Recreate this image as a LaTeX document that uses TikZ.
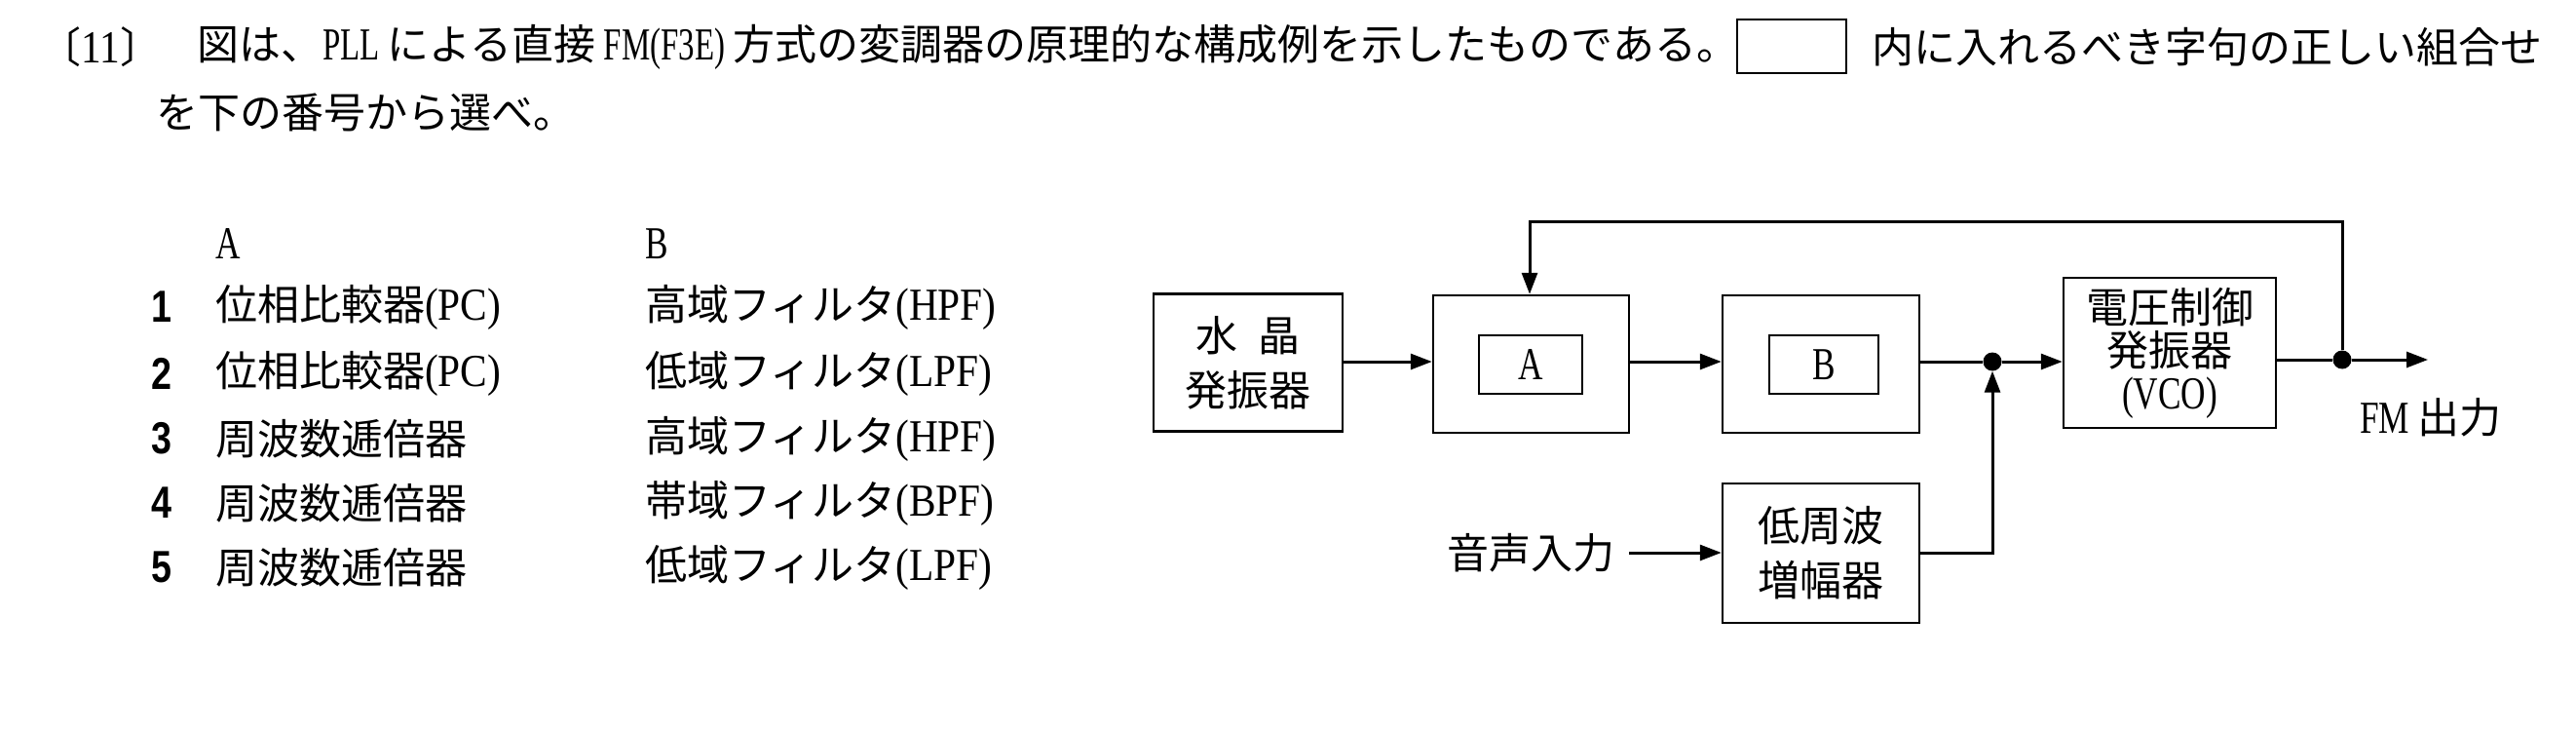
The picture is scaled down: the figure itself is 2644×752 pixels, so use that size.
\documentclass[tikz,border=0pt]{standalone}
\usepackage{fontspec}
\setmainfont{Noto Sans CJK JP}
\newfontfamily\latfont[FakeStretch=0.88]{Liberation Serif}
\newfontfamily\latvco[FakeStretch=0.75]{Liberation Serif}
\newfontfamily\lathead[FakeStretch=0.7]{Liberation Serif}
\newfontfamily\digfont[FakeStretch=0.82]{Liberation Sans}
\newcommand{\latn}[1]{{\fontsize{47}{52}\selectfont\latfont #1}}
\newcommand{\latd}[1]{{\fontsize{47}{52}\selectfont\latvco #1}}
\newcommand{\lath}[1]{{\fontsize{47}{52}\selectfont\lathead #1}}
\usetikzlibrary{arrows.meta}
\tikzset{
  txt/.style={inner sep=0pt, font=\fontsize{43}{52}\selectfont},
  blk/.style={draw, line width=2.5pt, inner sep=0pt, align=center, font=\fontsize{43}{52}\selectfont},
  inblk/.style={draw, line width=2pt, inner sep=0pt, font=\fontsize{43}{52}\selectfont},
  conn/.style={line width=3pt},
  arr/.style={line width=3pt, -{Triangle[length=22pt,width=16pt]}},
  dot/.style={circle, fill, inner sep=0pt, minimum size=19pt},
  dig/.style={inner sep=0pt, font=\fontsize{46}{50}\selectfont\digfont\bfseries}
}
\begin{document}
\begin{tikzpicture}[x=1pt,y=-1pt]
\useasboundingbox[fill=white] (0,0) rectangle (2644,752);
% heading
\node[txt, anchor=west] (qn) at (40,48) {〔\latn{11}〕};
\node[txt, anchor=west] (l1a) at (202,48) {図は、\lath{PLL }による直接\lath{ FM(F3E) }方式の変調器の原理的な構成例を示したものである。};
\node[draw, line width=2.5pt, minimum width=112pt, minimum height=55pt, inner sep=0pt] (blank) at (1839,47.5) {};
\node[txt, anchor=west] (l1b) at (1921,48) {内に入れるべき字句の正しい組合せ};
\node[txt, anchor=west] (l2) at (160,115) {を下の番号から選べ。};
% table
\node[txt, anchor=west] (hA) at (221,250) {\latd{A}};
\node[txt, anchor=west] (hB) at (662,250) {\latd{B}};
\node[dig, anchor=west] (n1) at (155,315) {1};
\node[dig, anchor=west] (n2) at (155,383) {2};
\node[dig, anchor=west] (n3) at (155,450) {3};
\node[dig, anchor=west] (n4) at (155,516) {4};
\node[dig, anchor=west] (n5) at (155,582) {5};
\node[txt, anchor=west] (a1) at (221,315) {位相比較器\latn{(PC)}};
\node[txt, anchor=west] (a2) at (221,383) {位相比較器\latn{(PC)}};
\node[txt, anchor=west] (a3) at (221,450) {周波数逓倍器};
\node[txt, anchor=west] (a4) at (221,516) {周波数逓倍器};
\node[txt, anchor=west] (a5) at (221,582) {周波数逓倍器};
\node[txt, anchor=west] (b1) at (662,315) {高域フィルタ\latn{(HPF)}};
\node[txt, anchor=west] (b2) at (662,383) {低域フィルタ\latn{(LPF)}};
\node[txt, anchor=west] (b3) at (662,450) {高域フィルタ\latn{(HPF)}};
\node[txt, anchor=west] (b4) at (662,516) {帯域フィルタ\latn{(BPF)}};
\node[txt, anchor=west] (b5) at (662,582) {低域フィルタ\latn{(LPF)}};
% diagram blocks
\node[blk, minimum width=194pt, minimum height=141pt] (xtal) at (1281,372) {水\hspace{0.5em}晶\\[4pt]発振器};
\node[blk, minimum width=201pt, minimum height=141pt] (pcA) at (1571.5,373.5) {};
\node[inblk, minimum width=106pt, minimum height=60pt] (inA) at (1571,374) {\latd{A}};
\node[blk, minimum width=202pt, minimum height=141pt] (fB) at (1869,373.5) {};
\node[inblk, minimum width=112pt, minimum height=60pt] (inB) at (1872,374) {\latd{B}};
\node[blk, minimum width=202pt, minimum height=143pt] (amp) at (1869,567.5) {低周波\\[4pt]増幅器};
\node[blk, minimum width=218pt, minimum height=154pt, font=\fontsize{43}{44}\selectfont] (vco) at (2227,362) {電圧制御\\発振器\\\latd{(VCO)}};
\node[dot] (j1) at (2045,371) {};
\node[dot] (j2) at (2404,369) {};
\coordinate (outend) at (2492,369);
\coordinate (fbR) at (2404,227);
\coordinate (fbL) at (1570,227);
\node[txt, anchor=east] (voice) at (1658,567) {音声入力};
\node[txt] (fmout) at (2495,428) {\latd{FM }出力};
% connectors
\draw[arr] (xtal.east |- 0,371) -- (pcA.west |- 0,371);
\draw[arr] (pcA.east |- 0,371) -- (fB.west |- 0,371);
\draw[conn] (fB.east |- j1) -- (j1);
\draw[arr] (j1) -- (j1 -| vco.west);
\draw[arr] ([xshift=14pt]voice.east) -- (amp.west |- voice.east);
\draw[arr] (amp.east |- voice.east) -| (j1);
\draw[conn] (vco.east |- j2) -- (j2);
\draw[arr] (j2) -- (outend);
\draw[arr] (j2) -- (fbR) -- (fbL) -- (fbL |- pcA.north);
\end{tikzpicture}
\end{document}
